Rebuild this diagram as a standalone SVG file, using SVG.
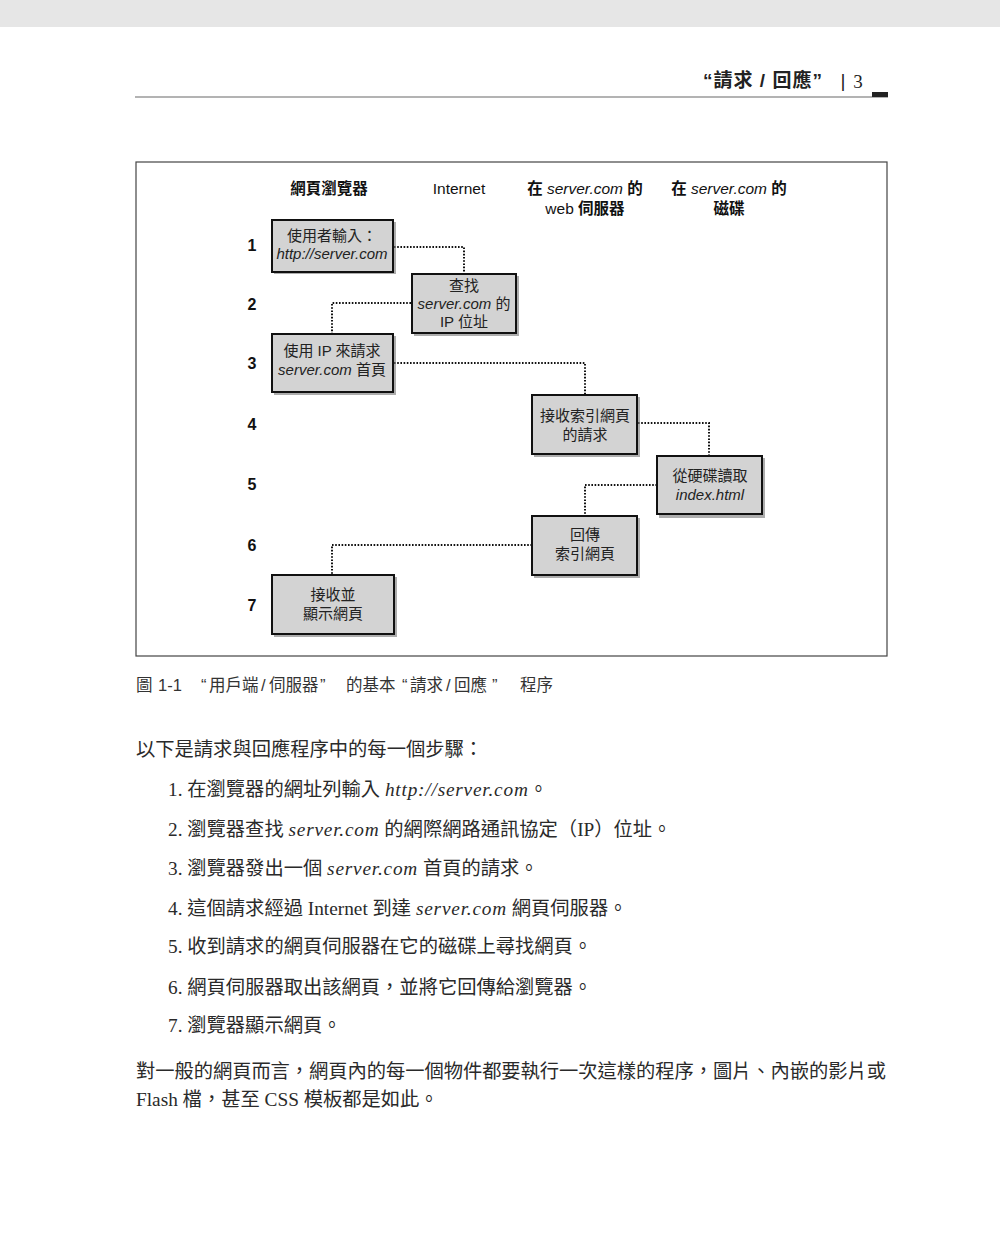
<svg xmlns="http://www.w3.org/2000/svg" width="1000" height="1243" viewBox="0 0 1000 1243">
<style>
.sans{font-family:"Liberation Sans","Noto Sans CJK TC",sans-serif;}
.hd{font-family:"Liberation Sans","Noto Sans CJK TC",sans-serif;font-size:15.5px;fill:#111;text-anchor:middle;}
.num{font-family:"Liberation Sans","Noto Sans CJK TC",sans-serif;font-size:16px;font-weight:bold;fill:#111;text-anchor:middle;}
.bx{fill:#d3d3d3;stroke:#111;stroke-width:2;}
.sh{fill:#777;opacity:0.6;}
.bt{font-family:"Liberation Sans","Noto Sans CJK TC",sans-serif;font-size:15px;fill:#222;text-anchor:middle;}
.it{font-style:italic;}
.con{fill:none;stroke:#111;stroke-width:2;stroke-dasharray:1.6 1.6;}
.body{font-family:"Liberation Serif","Noto Sans CJK TC",serif;font-size:19.3px;fill:#2a2a2a;}
.li{font-style:italic;letter-spacing:0.8px;}
</style>
<rect x="0" y="0" width="1000" height="27" fill="#e6e6e6"/>
<line x1="135" y1="97" x2="888" y2="97" stroke="#9a9a9a" stroke-width="1.5"/>
<text x="703" y="87" class="sans" font-size="19" font-weight="bold" fill="#222" textLength="119" lengthAdjust="spacing">“請求 / 回應”</text>
<text x="843" y="87" class="sans" font-size="19" fill="#222" text-anchor="middle">|</text>
<text x="858" y="88" font-family="Liberation Serif,serif" font-size="19" fill="#222" text-anchor="middle">3</text>
<rect x="872" y="92" width="16" height="5" fill="#222"/>

<rect x="136" y="162" width="751" height="494" fill="#fff" stroke="#444" stroke-width="1.2"/>

<g id="headers">
<text x="329" y="194" class="hd" font-weight="bold">網頁瀏覽器</text>
<text x="459" y="194" class="hd">Internet</text>
<text x="585" y="194" class="hd"><tspan font-weight="bold">在</tspan> <tspan class="it">server.com</tspan> <tspan font-weight="bold">的</tspan></text>
<text x="585" y="214" class="hd">web <tspan font-weight="bold">伺服器</tspan></text>
<text x="729" y="194" class="hd"><tspan font-weight="bold">在</tspan> <tspan class="it">server.com</tspan> <tspan font-weight="bold">的</tspan></text>
<text x="729" y="214" class="hd" font-weight="bold">磁碟</text>
</g>

<g id="rownums">
<text x="252" y="251" class="num">1</text>
<text x="252" y="310" class="num">2</text>
<text x="252" y="369" class="num">3</text>
<text x="252" y="430" class="num">4</text>
<text x="252" y="490" class="num">5</text>
<text x="252" y="551" class="num">6</text>
<text x="252" y="611" class="num">7</text>
</g>

<g id="connectors">
<polyline class="con" points="394,247 464,247 464,273"/>
<polyline class="con" points="411,303 332,303 332,333"/>
<polyline class="con" points="394,363 585,363 585,394"/>
<polyline class="con" points="638,423 709,423 709,455"/>
<polyline class="con" points="657,485 585,485 585,515"/>
<polyline class="con" points="532,545 332,545 332,574"/>
</g>

<g id="n1">
<rect x="274" y="222" width="122" height="52" class="sh"/>
<rect x="272" y="220" width="121" height="52" class="bx"/>
<text x="332" y="241" class="bt">使用者輸入：</text>
<text x="332" y="259" class="bt it">http://server.com</text>
</g>
<g id="n2">
<rect x="414" y="276" width="105" height="60" class="sh"/>
<rect x="412" y="274" width="104" height="59" class="bx"/>
<text x="464" y="291" class="bt">查找</text>
<text x="464" y="309" class="bt"><tspan class="it">server.com</tspan> 的</text>
<text x="464" y="327" class="bt">IP 位址</text>
</g>
<g id="n3">
<rect x="274" y="336" width="122" height="59" class="sh"/>
<rect x="272" y="334" width="121" height="58" class="bx"/>
<text x="332" y="356" class="bt">使用 IP 來請求</text>
<text x="332" y="375" class="bt"><tspan class="it">server.com</tspan> 首頁</text>
</g>
<g id="n4">
<rect x="534" y="397" width="106" height="60" class="sh"/>
<rect x="532" y="395" width="105" height="59" class="bx"/>
<text x="585" y="421" class="bt">接收索引網頁</text>
<text x="585" y="440" class="bt">的請求</text>
</g>
<g id="n5">
<rect x="659" y="458" width="106" height="60" class="sh"/>
<rect x="657" y="456" width="105" height="58" class="bx"/>
<text x="710" y="481" class="bt">從硬碟讀取</text>
<text x="710" y="500" class="bt it">index.html</text>
</g>
<g id="n6">
<rect x="534" y="518" width="106" height="60" class="sh"/>
<rect x="532" y="516" width="105" height="59" class="bx"/>
<text x="585" y="540" class="bt">回傳</text>
<text x="585" y="559" class="bt">索引網頁</text>
</g>
<g id="n7">
<rect x="274" y="577" width="123" height="60" class="sh"/>
<rect x="272" y="575" width="122" height="59" class="bx"/>
<text x="333" y="600" class="bt">接收並</text>
<text x="333" y="619" class="bt">顯示網頁</text>
</g>

<text y="691" class="sans" font-size="16.5" fill="#333"><tspan x="136">圖</tspan><tspan x="158">1-1</tspan><tspan x="201">“</tspan><tspan x="209">用戶端</tspan><tspan x="261">/</tspan><tspan x="269">伺服器</tspan><tspan x="320">”</tspan><tspan x="346">的基本</tspan><tspan x="402">“</tspan><tspan x="410">請求</tspan><tspan x="446">/</tspan><tspan x="454">回應</tspan><tspan x="492">”</tspan><tspan x="520">程序</tspan></text>

<g id="body">
<text x="136" y="756" class="body">以下是請求與回應程序中的每一個步驟：</text>
<text x="168" y="796" class="body">1. 在瀏覽器的網址列輸入 <tspan class="li">http://server.com</tspan>。</text>
<text x="168" y="836" class="body">2. 瀏覽器查找 <tspan class="li">server.com</tspan> 的網際網路通訊協定（IP）位址。</text>
<text x="168" y="875" class="body">3. 瀏覽器發出一個 <tspan class="li">server.com</tspan> 首頁的請求。</text>
<text x="168" y="915" class="body">4. 這個請求經過 Internet 到達 <tspan class="li">server.com</tspan> 網頁伺服器。</text>
<text x="168" y="953" class="body">5. 收到請求的網頁伺服器在它的磁碟上尋找網頁。</text>
<text x="168" y="994" class="body">6. 網頁伺服器取出該網頁，並將它回傳給瀏覽器。</text>
<text x="168" y="1032" class="body">7. 瀏覽器顯示網頁。</text>
<text x="136" y="1078" class="body" textLength="750" lengthAdjust="spacing">對一般的網頁而言，網頁內的每一個物件都要執行一次這樣的程序，圖片、內嵌的影片或</text>
<text x="136" y="1106" class="body">Flash 檔，甚至 CSS 模板都是如此。</text>
</g>
</svg>
